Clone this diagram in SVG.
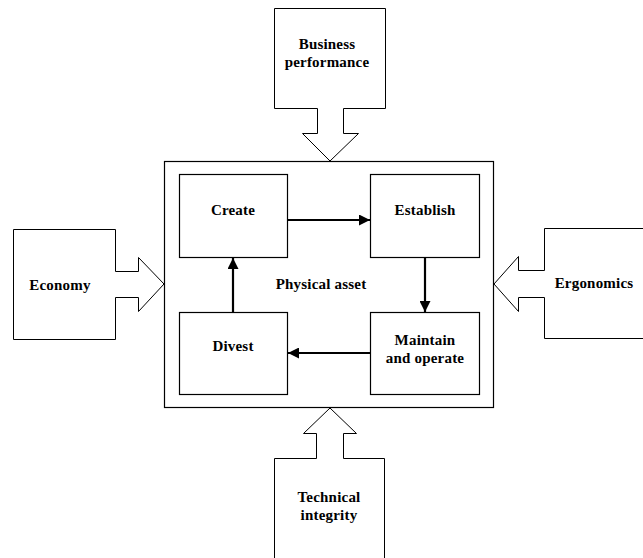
<svg xmlns="http://www.w3.org/2000/svg" width="643" height="558" viewBox="0 0 643 558">
<defs>
<style>
.blk{fill:#fff;stroke:#000;stroke-width:1}
.box{fill:#fff;stroke:#000;stroke-width:1.2}
.t{font-family:"Liberation Serif","Times New Roman",serif;font-weight:bold;font-size:15px;letter-spacing:0.2px;text-anchor:middle;fill:#000}
.c{stroke:#000;stroke-width:2.2;fill:none;marker-end:url(#ah)}
</style>
<marker id="ah" viewBox="0 0 10 10" refX="10" refY="5" markerWidth="5" markerHeight="5" markerUnits="strokeWidth" orient="auto">
<path d="M0,0 L10,5 L0,10 Z" fill="#000"/>
</marker>
</defs>
<rect width="643" height="558" fill="#fff"/>
<g id="physical-asset">
<rect class="box" x="164.5" y="161.5" width="329" height="246"/>
<text class="t" x="321" y="289">Physical asset</text>
</g>
<g id="business-performance">
<path class="blk" d="M274.5,8.5 H385.5 V108.5 H343.5 V133.5 H358.5 L330,161 L302.5,133.5 H317.5 V108.5 H274.5 Z"/>
<text class="t" x="327" y="49">Business</text>
<text class="t" x="327" y="67">performance</text>
</g>
<g id="economy">
<path class="blk" d="M13.5,229.5 H115.5 V271.5 H138.5 V257.5 L164,284 L138.5,311.5 V297.5 H115.5 V339.5 H13.5 Z"/>
<text class="t" x="60" y="290">Economy</text>
</g>
<g id="ergonomics">
<path class="blk" d="M650,228.5 H544.5 V270.5 H518.5 V256.5 L494,284 L518.5,311.5 V297.5 H544.5 V338.5 H650"/>
<text class="t" x="594" y="288">Ergonomics</text>
</g>
<g id="technical-integrity">
<path class="blk" d="M274.5,565 V458.5 H316.5 V433.5 H303.5 L330,408 L356.5,433.5 H343.5 V458.5 H384.5 V565"/>
<text class="t" x="329" y="502">Technical</text>
<text class="t" x="329" y="520">integrity</text>
</g>
<g id="create">
<rect class="box" x="179.5" y="174.5" width="108" height="83"/>
<text class="t" x="233" y="215">Create</text>
</g>
<g id="establish">
<rect class="box" x="370.5" y="174.5" width="109" height="83"/>
<text class="t" x="425" y="215">Establish</text>
</g>
<g id="divest">
<rect class="box" x="179.5" y="312.5" width="108" height="82"/>
<text class="t" x="233" y="351">Divest</text>
</g>
<g id="maintain">
<rect class="box" x="370.5" y="312.5" width="109" height="82"/>
<text class="t" x="425" y="345">Maintain</text>
<text class="t" x="425" y="363">and operate</text>
</g>
<g id="connectors">
<line class="c" x1="288" y1="220" x2="370" y2="220"/>
<line class="c" x1="425" y1="258" x2="425" y2="312"/>
<line class="c" x1="370" y1="353" x2="288" y2="353"/>
<line class="c" x1="233" y1="312" x2="233" y2="258"/>
</g>
</svg>
